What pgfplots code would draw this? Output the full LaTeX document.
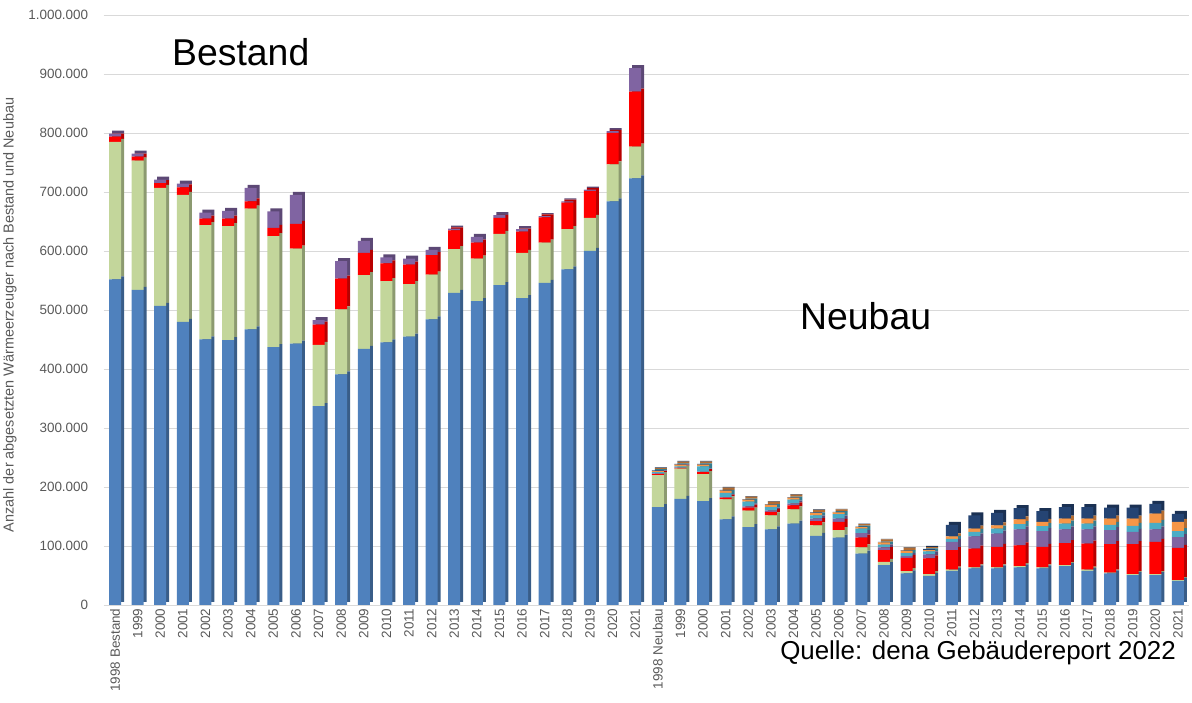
\documentclass[border=0pt]{standalone}
\usepackage{pgfplots}
\pgfplotsset{compat=1.18}
\usepackage{pgfplotstable}
\usepackage{fontspec}
\setmainfont{Liberation Sans}
\definecolor{cb}{HTML}{4F81BD}
\definecolor{cg}{HTML}{C3D69B}
\definecolor{cr}{HTML}{FF0000}
\definecolor{cp}{HTML}{8064A2}
\definecolor{cc}{HTML}{4BACC6}
\definecolor{co}{HTML}{F79646}
\definecolor{cn}{HTML}{254473}
\definecolor{tickgray}{HTML}{595959}
\definecolor{gridgray}{HTML}{D9D9D9}

% values in thousands
\pgfplotstableread{
x b g r p c o n
0 552 233 9 5 0 0 0
1 534 219 7 5 0 0 0
2 507 200 8 6 0 0 0
3 480 215 13 6 0 0 0
4 450 194 11 10 0 0 0
5 449 193 13 13 0 0 0
6 467 205 12 23 0 0 0
7 437 188 14 28 0 0 0
8 443 161 42 49 0 0 0
9 337 104 34 8 0 0 0
10 391 110 52 30 0 0 0
11 434 125 38 20 0 0 0
12 445 104 30 10 0 0 0
13 455 89 33 10 0 0 0
14 484 76 33 9 0 0 0
15 529 74 32 3 0 0 0
16 515 72 27 10 0 0 0
17 542 87 27 5 0 0 0
18 520 77 36 4 0 0 0
19 546 68 43 2 0 0 0
20 569 68 45 2 0 0 0
21 600 56 46 2 0 0 0
22 684 63 53 3 0 0 0
23 723 54 93 40 0 0 0
24 166 54 2 1 2 2 1
25 180 51 1.6 0.4 2 3 1
26 176 46 3 1 9 3 1
27 145 34 3 1 7 4 1
28 132 28 5 2 8 3.5 1
29 128 24 6 2 6 4 1
30 138 24 7 3 6.5 3.5 1
31 117 18 7 4.5 5.5 4 1
32 114 13 14 5.5 7.5 3 1
33 87 10.5 16.5 8 7.5 2.5 1
34 67.6 5.4 20 4.5 5 3.5 1
35 53.5 3.9 22.6 3 5 4 1
36 49.5 2.9 26.6 7 5 2 2
37 58 2 33 14 5 4.5 19.5
38 62 1.7 32 20.8 7.5 5.5 22.5
39 62 1.7 34.8 22.5 8.5 5.5 21
40 63.7 2.3 35 27 9 8 19
41 62 1.7 34.8 26.5 8.5 7.5 18
42 66 1.6 37.4 23 10 8.5 19.5
43 58 2 44 24 10 8.5 19.5
44 53.5 1.5 48 24 9 10.5 18.5
45 50.7 1.7 50.6 21 10 12.5 18.5
46 50.7 1.7 54.6 21 11 16 16.5
47 41 1 55 18 10 16 13.6
}\data

\pgfplotsset{
  base/.style={scale only axis, width=1085.6bp, height=590bp,
    xmin=-0.5, xmax=47.5, ymin=0, ymax=1000, anchor=south west},
  bars/.style={base, hide axis, ybar stacked, bar width=12bp},
}

\begin{document}
\begin{tikzpicture}
\path[use as bounding box] (0,0) rectangle (1192bp,703bp);

% grid + ticks
\begin{axis}[base, at={(103.7bp,98bp)},
  axis line style={draw=none}, tick style={draw=none},
  ymajorgrids, major grid style={gridgray, line width=0.9bp},
  ytick={0,100,...,1000},
  yticklabels={0,100.000,200.000,300.000,400.000,500.000,600.000,700.000,800.000,900.000,1.000.000},
  yticklabel style={font=\fontsize{13.5}{13.5}\selectfont, text=tickgray, xshift=-12bp},
  xtick={0,...,47},
  xticklabels={1998 Bestand,1999,2000,2001,2002,2003,2004,2005,2006,2007,2008,2009,2010,2011,2012,2013,2014,2015,2016,2017,2018,2019,2020,2021,1998 Neubau,1999,2000,2001,2002,2003,2004,2005,2006,2007,2008,2009,2010,2011,2012,2013,2014,2015,2016,2017,2018,2019,2020,2021},
  xticklabel style={rotate=90, anchor=east, font=\fontsize{13.5}{13.5}\selectfont, text=tickgray},
]
\addplot[draw=none] coordinates {(0,0)};
\end{axis}

% 3D side/top shading copy
\begin{axis}[bars, at={(106.7bp,101bp)}]
\addplot[fill=cb!72!black, draw=none] table[x=x,y=b]{\data};
\addplot[fill=cg!72!black, draw=none] table[x=x,y=g]{\data};
\addplot[fill=cr!72!black, draw=none] table[x=x,y=r]{\data};
\addplot[fill=cp!72!black, draw=none] table[x=x,y=p]{\data};
\addplot[fill=cc!72!black, draw=none] table[x=x,y=c]{\data};
\addplot[fill=co!72!black, draw=none] table[x=x,y=o]{\data};
\addplot[fill=cn!72!black, draw=none] table[x=x,y=n]{\data};
\end{axis}

% front faces
\begin{axis}[bars, at={(103.7bp,98bp)}]
\addplot[fill=cb, draw=none] table[x=x,y=b]{\data};
\addplot[fill=cg, draw=none] table[x=x,y=g]{\data};
\addplot[fill=cr, draw=none] table[x=x,y=r]{\data};
\addplot[fill=cp, draw=none] table[x=x,y=p]{\data};
\addplot[fill=cc, draw=none] table[x=x,y=c]{\data};
\addplot[fill=co, draw=none] table[x=x,y=o]{\data};
\addplot[fill=cn, draw=none] table[x=x,y=n]{\data};
\end{axis}

\node[rotate=90, font=\fontsize{14.5}{14.5}\selectfont, text=tickgray] at (10bp,388bp)
  {Anzahl der abgesetzten Wärmeerzeuger nach Bestand und Neubau};
\node[anchor=base west, font=\fontsize{37.5}{37.5}\selectfont, inner sep=0pt] at (172bp,637bp) {Bestand};
\node[anchor=base west, font=\fontsize{37.5}{37.5}\selectfont, inner sep=0pt] at (800bp,373bp) {Neubau};
\node[anchor=base east, font=\fontsize{26}{26}\selectfont, inner sep=0pt] at (1176bp,43bp) {Quelle: dena Gebäudereport 2022};
\end{tikzpicture}
\end{document}
